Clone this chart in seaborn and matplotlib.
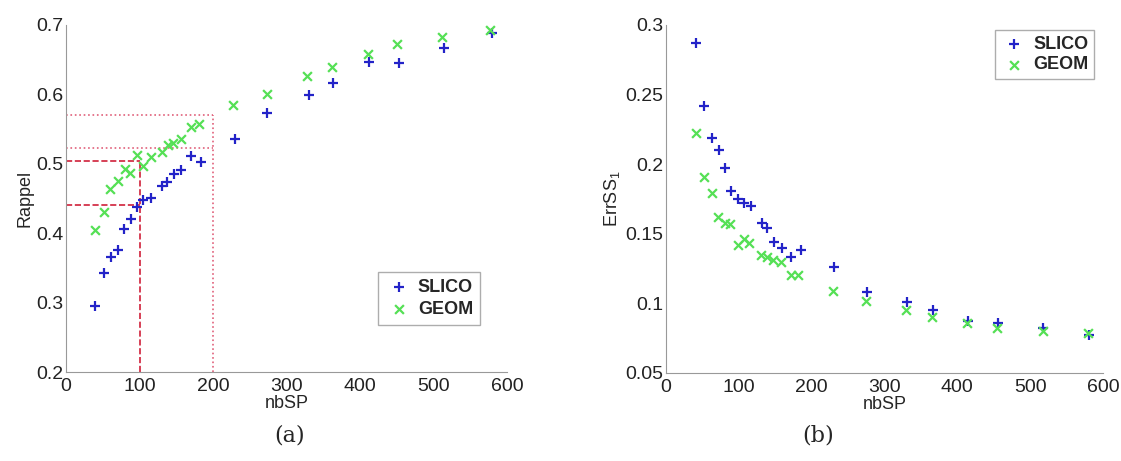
import seaborn as sns
import matplotlib.pyplot as plt
import pandas as pd
from matplotlib.ticker import FormatStrFormatter

# (a) Rappel vs nbSP
slico_nb_a = [40, 52, 61, 71, 79, 88, 97, 105, 115, 130, 137, 147, 157, 170, 184, 230, 274, 330, 363, 412, 453, 514, 580]
slico_rappel = [0.295, 0.342, 0.365, 0.376, 0.406, 0.421, 0.438, 0.448, 0.451, 0.468, 0.473, 0.485, 0.491,
                0.511, 0.503, 0.536, 0.573, 0.599, 0.616, 0.646, 0.645, 0.666, 0.688]
geom_nb_a = [39, 52, 60, 71, 80, 87, 97, 105, 116, 131, 139, 146, 156, 170, 181, 227, 273, 328, 362, 411, 450, 512, 577]
geom_rappel = [0.404, 0.430, 0.463, 0.475, 0.493, 0.487, 0.513, 0.497, 0.510, 0.517, 0.527, 0.530, 0.536,
               0.553, 0.557, 0.585, 0.600, 0.627, 0.640, 0.658, 0.672, 0.683, 0.692]

# reperes rouges
ref_nb = [100, 200]
ref_dash = [0.440, 0.504]
ref_dot = [0.523, 0.570]

# (b) ErrSS1 vs nbSP
slico_nb_b = [41, 52, 63, 73, 81, 89, 99, 107, 117, 132, 139, 148, 159, 172, 185, 231, 276, 331, 367, 415, 456, 518, 581]
slico_err = [0.287, 0.242, 0.219, 0.210, 0.197, 0.181, 0.175, 0.172, 0.170, 0.158, 0.154, 0.144, 0.140,
             0.133, 0.138, 0.126, 0.108, 0.101, 0.095, 0.087, 0.086, 0.082, 0.077]
geom_nb_b = [41, 52, 63, 71, 81, 88, 99, 107, 114, 130, 139, 147, 158, 172, 181, 229, 275, 330, 365, 413, 455, 517, 580]
geom_err = [0.222, 0.191, 0.179, 0.162, 0.158, 0.157, 0.142, 0.146, 0.143, 0.135, 0.133, 0.131, 0.130,
            0.120, 0.120, 0.109, 0.102, 0.095, 0.090, 0.086, 0.082, 0.080, 0.079]

sns.set_style('white')
plt.rcParams['font.family'] = ['Liberation Sans', 'DejaVu Sans']
plt.rcParams['mathtext.fontset'] = 'custom'
plt.rcParams['mathtext.rm'] = 'Liberation Sans'
plt.rcParams['mathtext.it'] = 'Liberation Sans'

blue = '#2323c8'
green = '#55e055'

fig = plt.figure(figsize=(11.21, 4.61), dpi=100)
ax1 = fig.add_axes([0.0589, 0.193, 0.3934, 0.753])
ax2 = fig.add_axes([0.594, 0.191, 0.390, 0.755])

df_a = pd.DataFrame({'nbSP': slico_nb_a + geom_nb_a,
                     'val': slico_rappel + geom_rappel,
                     'methode': ['SLICO'] * len(slico_nb_a) + ['GEOM'] * len(geom_nb_a)})
df_b = pd.DataFrame({'nbSP': slico_nb_b + geom_nb_b,
                     'val': slico_err + geom_err,
                     'methode': ['SLICO'] * len(slico_nb_b) + ['GEOM'] * len(geom_nb_b)})

for ax, df in [(ax1, df_a), (ax2, df_b)]:
    for meth, mk, col, sz in [('SLICO', '+', blue, 55), ('GEOM', 'x', green, 40)]:
        sub = df[df['methode'] == meth]
        sns.scatterplot(data=sub, x='nbSP', y='val', marker=mk, color=col, s=sz,
                        linewidth=1.6, ax=ax, label=meth, zorder=3)

# lignes rouges du panneau (a)
red = '#d0203a'
pink = '#e0607a'
for y in ref_dash:
    ax1.plot([0, ref_nb[0]], [y, y], color=red, ls='--', lw=1.2, zorder=2)
ax1.plot([ref_nb[0], ref_nb[0]], [0.2, ref_dash[1]], color=red, ls='--', lw=1.2, zorder=2)
for y in ref_dot:
    ax1.plot([0, ref_nb[1]], [y, y], color=pink, ls=':', lw=1.2, zorder=2)
ax1.plot([ref_nb[1], ref_nb[1]], [0.2, ref_dot[1]], color=pink, ls=':', lw=1.2, zorder=2)

ax1.set_xlim(0, 600)
ax1.set_ylim(0.2, 0.7)
ax1.set_yticks([0.2, 0.3, 0.4, 0.5, 0.6, 0.7])
ax1.set_ylabel('Rappel', fontsize=13, labelpad=2)
ax1.legend(loc='lower right', bbox_to_anchor=(0.96, 0.11), prop={'weight': 'bold', 'size': 13},
           frameon=True, fancybox=False, edgecolor='#999999', handletextpad=0.3,
           borderpad=0.4, labelspacing=0.25, handlelength=1.5)

ax2.set_xlim(0, 600)
ax2.set_ylim(0.05, 0.3)
ax2.set_yticks([0.05, 0.1, 0.15, 0.2, 0.25, 0.3])
ax2.yaxis.set_major_formatter(FormatStrFormatter('%g'))
ax2.set_ylabel('ErrSS$_1$', fontsize=13, labelpad=2)
ax2.legend(loc='upper right', bbox_to_anchor=(1.0, 1.01), prop={'weight': 'bold', 'size': 13},
           frameon=True, fancybox=False, edgecolor='#999999', handletextpad=0.3,
           borderpad=0.3, labelspacing=0.2, handlelength=1.5)

for ax in (ax1, ax2):
    ax.set_xticks([0, 100, 200, 300, 400, 500, 600])
    ax.set_xlabel('nbSP', fontsize=13, labelpad=0)
    sns.despine(ax=ax)
    for sp in ('left', 'bottom'):
        ax.spines[sp].set_color('#999999')
    ax.tick_params(direction='in', length=3, color='#999999', labelsize=14, labelcolor='#222222')
    ax.tick_params(axis='x', pad=4)
    ax.tick_params(axis='y', pad=2)

fig.text(0.258, 0.055, '(a)', fontsize=16, family='DejaVu Serif', ha='center', va='center')
fig.text(0.730, 0.055, '(b)', fontsize=16, family='DejaVu Serif', ha='center', va='center')

fig.savefig('out.png', dpi=100)
